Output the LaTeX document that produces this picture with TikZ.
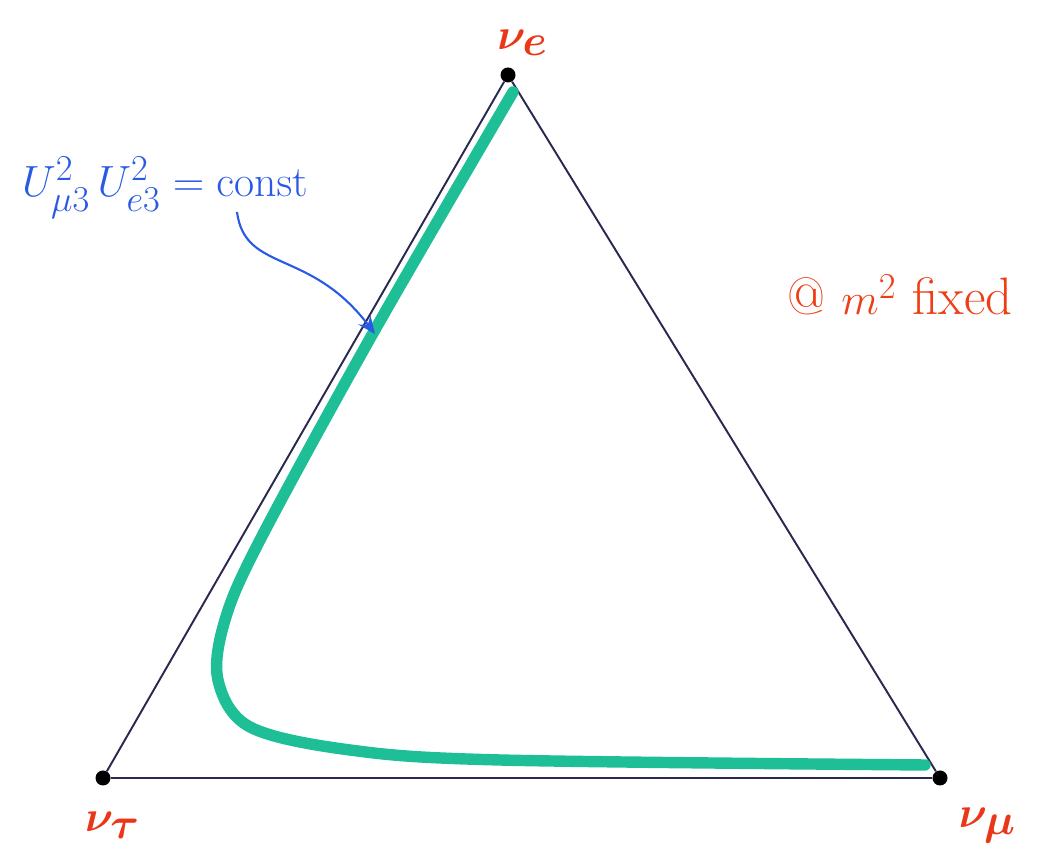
\documentclass[tikz,border=0pt]{standalone}
\definecolor{edgeblue}{RGB}{40,40,80}
\definecolor{flavred}{RGB}{235,55,25}
\definecolor{curvegreen}{RGB}{30,190,150}
\definecolor{penblue}{RGB}{40,90,230}
\usepackage{amsmath,amssymb}
\usepackage{bm}
\usetikzlibrary{arrows.meta,positioning,calc}

\begin{document}
\begin{tikzpicture}[
      vtx/.style={circle, fill=black, inner sep=0pt, minimum size=0.3cm},
      flav/.style={text=flavred, font=\fontsize{40}{40}\selectfont},
      edge/.style={draw=edgeblue, line width=1.1pt},
      arr/.style={-{Stealth[length=0.35cm,width=0.3cm]}, draw=penblue, line width=1.2pt}
    ]
      \useasboundingbox (0,0) rectangle (21.02,17.36);
      % corners of the flavour triangle
      \node[vtx] (e) at (10.16,15.86) {};
      \node[vtx] (tau) at (2.06,1.80) {};
      \node[vtx] (mu) at (18.8,1.80) {};
      \draw[edge] (e) -- (tau) -- (mu) -- (e);
      \node[flav] (le) at (10.45,16.5) {$\bm{\nu_e}$};
      \node[flav] (ltau) at (2.25,0.85) {$\bm{\nu_\tau}$};
      \node[flav] (lmu) at (19.75,0.85) {$\bm{\nu_\mu}$};
      % curve of constant product
      \draw[curvegreen, line width=6.5pt, line cap=round]
        plot[smooth, tension=0.55] coordinates {(10.26,15.52) (7.44,10.66) (5.2,6.56)
          (4.5,4.96) (4.36,3.76) (5.0,2.82) (7.0,2.36) (10.0,2.16) (18.5,2.06)};
      \node[text=penblue, font=\fontsize{28}{28}\selectfont] (prod) at (3.3,13.6)
        {$U^2_{\mu3}\,U^2_{e3}=\mathrm{const}$};
      \coordinate (tail) at (4.74,13.12);
      \coordinate (tip) at (7.5,10.68);
      \draw[arr] (tail) .. controls (4.9,11.9) and (6.2,12.4) .. (tip);
      \node[text=flavred!90!orange, font=\fontsize{30}{30}\selectfont] (fix) at (18.0,11.46)
        {@ $m^2$ fixed};
    \end{tikzpicture}
\end{document}
